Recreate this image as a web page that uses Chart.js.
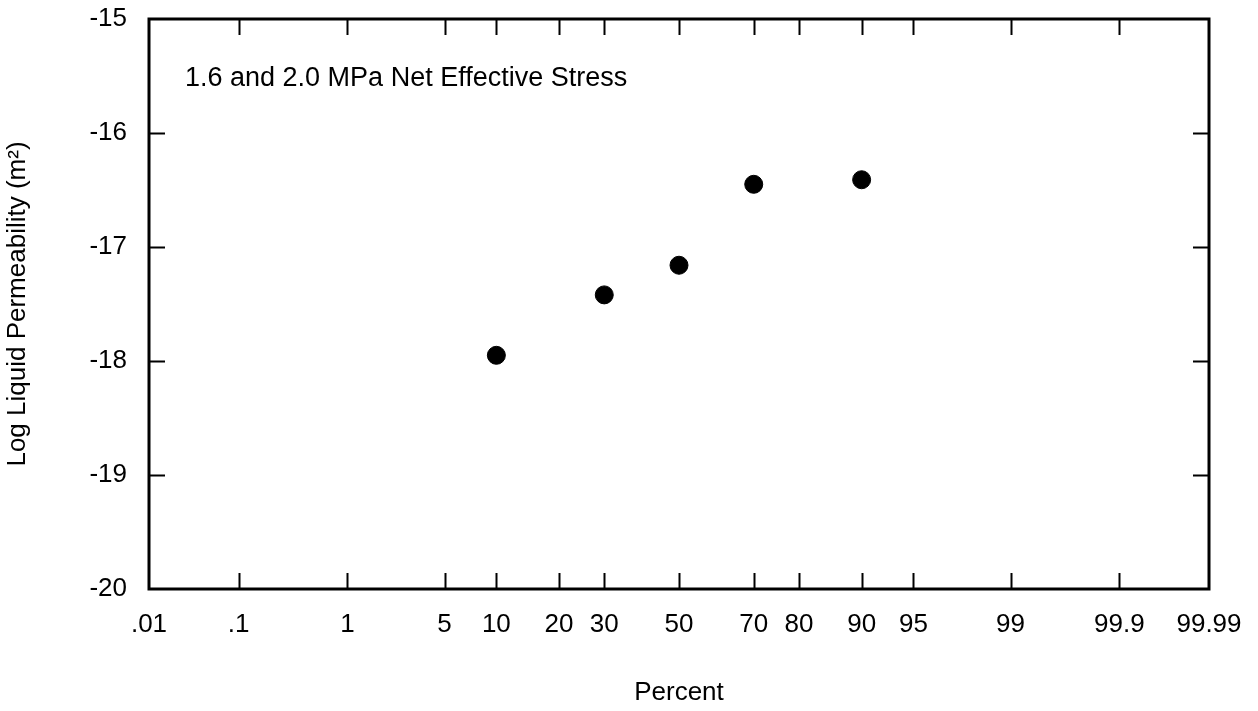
<!DOCTYPE html>
<html>
<head>
<meta charset="utf-8">
<script src="https://cdn.jsdelivr.net/npm/chart.js@4.4.1/dist/chart.umd.min.js"></script>
<style>
    html, body { margin: 0; padding: 0; background: #fff; }
    #wrap { width: 1258px; height: 711px; }
</style>
</head>
<body>
<div id="wrap"><canvas id="probChart"></canvas></div>
<script>
// cumulative percent of each sample and its log permeability
const percents = [10, 30, 50, 70, 90];
const logPerm = [-17.95, -17.42, -17.16, -16.45, -16.41];

// probability axis
const tickPercents = [0.01, 0.1, 1, 5, 10, 20, 30, 50, 70, 80, 90, 95, 99, 99.9, 99.99];
const tickLabels = ['.01', '.1', '1', '5', '10', '20', '30', '50', '70', '80', '90', '95', '99', '99.9', '99.99'];

// value axis
const yMin = -20;
const yMax = -15;

const note = '1.6 and 2.0 MPa Net Effective Stress';
const FONT = "'Liberation Sans', Arial, Helvetica, sans-serif";

// inverse normal CDF (Acklam), used to put percents on the probability scale
function probit(p) {
    const a = [-3.969683028665376e+01, 2.209460984245205e+02, -2.759285104469687e+02, 1.383577518672690e+02, -3.066479806614716e+01, 2.506628277459239e+00];
    const b = [-5.447609879822406e+01, 1.615858368580409e+02, -1.556989798598866e+02, 6.680131188771972e+01, -1.328068155288572e+01];
    const c = [-7.784894002430293e-03, -3.223964580411365e-01, -2.400758277161838e+00, -2.549732539343734e+00, 4.374664141464968e+00, 2.938163982698783e+00];
    const d = [7.784695709041462e-03, 3.224671290700398e-01, 2.445134137142996e+00, 3.754408661907416e+00];
    const pl = 0.02425;
    let q, r;
    if (p < pl) {
        q = Math.sqrt(-2 * Math.log(p));
        return (((((c[0]*q + c[1])*q + c[2])*q + c[3])*q + c[4])*q + c[5]) / ((((d[0]*q + d[1])*q + d[2])*q + d[3])*q + 1);
    }
    if (p > 1 - pl) {
        q = Math.sqrt(-2 * Math.log(1 - p));
        return -(((((c[0]*q + c[1])*q + c[2])*q + c[3])*q + c[4])*q + c[5]) / ((((d[0]*q + d[1])*q + d[2])*q + d[3])*q + 1);
    }
    q = p - 0.5;
    r = q * q;
    return (((((a[0]*r + a[1])*r + a[2])*r + a[3])*r + a[4])*r + a[5])*q / (((((b[0]*r + b[1])*r + b[2])*r + b[3])*r + b[4])*r + 1);
}

// box frame with inward tick marks on all four sides
const framePlugin = {
    id: 'frame',
    afterDraw(chart) {
        const { ctx, chartArea: ca, scales } = chart;
        const len = 16;
        ctx.save();
        ctx.strokeStyle = '#000';
        ctx.lineWidth = 2;
        ctx.beginPath();
        scales.x.ticks.forEach((t, i) => {
            if (i === 0 || i === scales.x.ticks.length - 1) return;
            const px = Math.round(scales.x.getPixelForTick(i)) + 0.5;
            ctx.moveTo(px, ca.bottom); ctx.lineTo(px, ca.bottom - len);
            ctx.moveTo(px, ca.top); ctx.lineTo(px, ca.top + len);
        });
        scales.y.ticks.forEach((t, i) => {
            if (i === 0 || i === scales.y.ticks.length - 1) return;
            const py = Math.round(scales.y.getPixelForTick(i)) + 0.5;
            ctx.moveTo(ca.left, py); ctx.lineTo(ca.left + len, py);
            ctx.moveTo(ca.right, py); ctx.lineTo(ca.right - len, py);
        });
        ctx.stroke();

        ctx.lineWidth = 3;
        ctx.strokeRect(ca.left, ca.top, ca.right - ca.left, ca.bottom - ca.top);

        ctx.fillStyle = '#000';
        ctx.font = '27px ' + FONT;
        ctx.textAlign = 'left';
        ctx.textBaseline = 'alphabetic';
        ctx.fillText(note, ca.left + 36, ca.top + 67);
        ctx.restore();
    }
};

document.addEventListener('DOMContentLoaded', function() {
    const ctx = document.getElementById('probChart').getContext('2d');
    new Chart(ctx, {
        type: 'scatter',
        data: {
            datasets: [{
                data: percents.map((p, i) => ({ x: probit(p / 100), y: logPerm[i] })),
                backgroundColor: '#000',
                borderColor: '#000',
                pointRadius: 9,
                pointHoverRadius: 9
            }]
        },
        options: {
            responsive: true,
            maintainAspectRatio: false,
            animation: false,
            layout: { padding: { top: 19, right: 49, left: 0, bottom: 0 } },
            plugins: {
                legend: { display: false },
                tooltip: { enabled: false }
            },
            scales: {
                x: {
                    type: 'linear',
                    min: probit(tickPercents[0] / 100),
                    max: probit(tickPercents[tickPercents.length - 1] / 100),
                    afterBuildTicks: function(scale) {
                        scale.ticks = tickPercents.map(p => ({ value: probit(p / 100) }));
                    },
                    afterFit: function(scale) {
                        scale.height = 122;
                        scale.paddingLeft = 0;
                        scale.paddingRight = 0;
                    },
                    grid: { display: false, drawTicks: false },
                    border: { display: false },
                    ticks: {
                        autoSkip: false,
                        maxRotation: 0,
                        padding: 20,
                        color: '#000',
                        font: { family: FONT, size: 26 },
                        callback: (v, i) => tickLabels[i]
                    },
                    title: {
                        display: true,
                        text: 'Percent',
                        color: '#000',
                        font: { family: FONT, size: 26 },
                        padding: { top: 0, bottom: 3 }
                    }
                },
                y: {
                    min: yMin,
                    max: yMax,
                    afterFit: function(scale) {
                        scale.width = 149;
                        scale.paddingTop = 0;
                        scale.paddingBottom = 0;
                    },
                    grid: { display: false, drawTicks: false },
                    border: { display: false },
                    ticks: {
                        stepSize: 1,
                        padding: 22,
                        color: '#000',
                        font: { family: FONT, size: 26 }
                    },
                    title: {
                        display: true,
                        text: 'Log Liquid Permeability (m\u00B2)',
                        color: '#000',
                        font: { family: FONT, size: 26 },
                        padding: { top: 2, bottom: 0 }
                    }
                }
            }
        },
        plugins: [framePlugin]
    });
});
</script>
</body>
</html>
